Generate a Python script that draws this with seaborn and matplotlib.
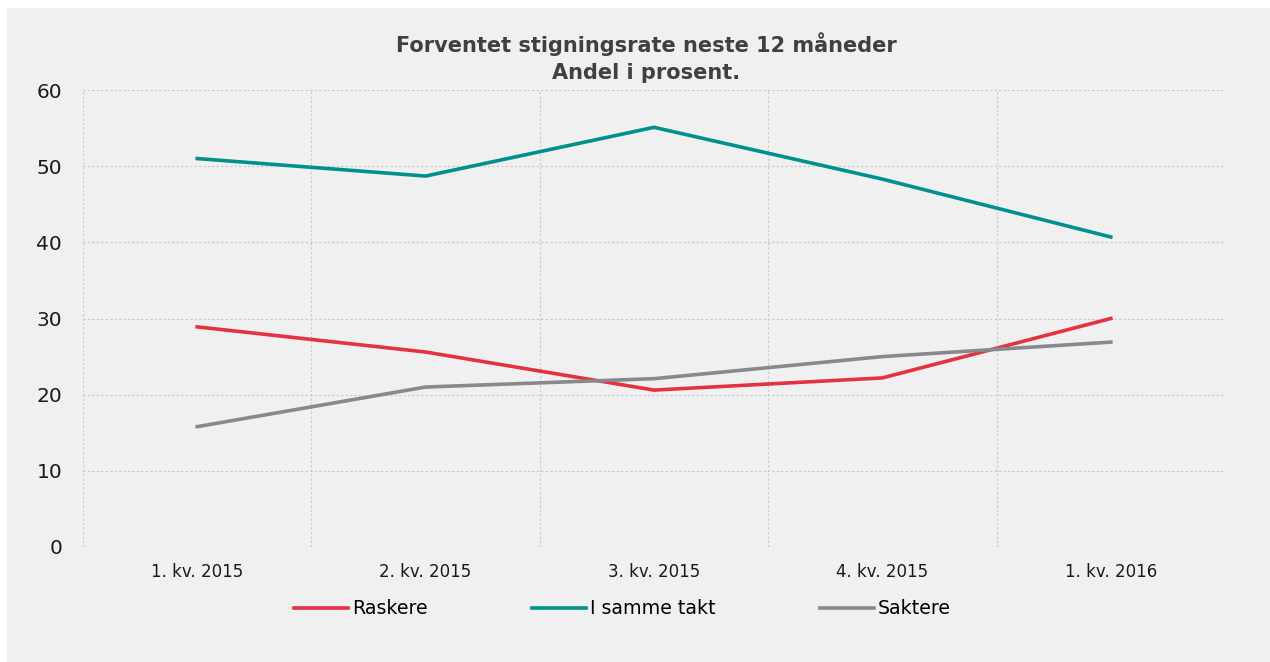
import matplotlib
matplotlib.use("Agg")
import matplotlib.pyplot as plt
import seaborn as sns
import pandas as pd
from matplotlib.patches import Rectangle
from matplotlib.ticker import FixedLocator

categories = ["1. kv. 2015", "2. kv. 2015", "3. kv. 2015", "4. kv. 2015", "1. kv. 2016"]
raskere = [28.9, 25.6, 20.6, 22.2, 30.0]
samme_takt = [51.0, 48.7, 55.1, 48.3, 40.7]
saktere = [15.8, 21.0, 22.1, 25.0, 26.9]
series_names = ["Raskere", "I samme takt", "Saktere"]
colors = ["#e5323f", "#00918f", "#88888d"]
y_ticks = [0, 10, 20, 30, 40, 50, 60]
title = "Forventet stigningsrate neste 12 måneder\nAndel i prosent."

rows = []
for name, vals in zip(series_names, [raskere, samme_takt, saktere]):
    for i, (c, v) in enumerate(zip(categories, vals)):
        rows.append({"pos": i, "kvartal": c, "verdi": v, "serie": name})
df = pd.DataFrame(rows)

plt.rcParams['font.family'] = ['DejaVu Sans']

W, H = 1270, 662
fig = plt.figure(figsize=(W / 100, H / 100), dpi=100, facecolor="white")
fig.patches.append(Rectangle((7 / W, 0), 1 - 7 / W, 1 - 8 / H, transform=fig.transFigure,
                             facecolor="#f0f0f0", edgecolor="none", zorder=-10))

ax = fig.add_axes([83 / W, (H - 547) / H, (1225 - 83) / W, (547 - 90) / H])
ax.set_facecolor("none")

sns.lineplot(data=df, x="pos", y="verdi", hue="serie", hue_order=series_names,
             palette=dict(zip(series_names, colors)), linewidth=2.6, ax=ax,
             legend=True, sort=False)

ax.set_xlim(-0.5, len(categories) - 0.5)
ax.set_ylim(0, 60)
ax.set_xticks(range(len(categories)))
ax.set_xticklabels(categories, fontsize=12, color="#1a1a1a")
ax.xaxis.set_minor_locator(FixedLocator([i - 0.5 for i in range(len(categories) + 1)]))
ax.set_yticks(y_ticks)
ax.set_yticklabels([str(t) for t in y_ticks], fontsize=14.5, color="#1a1a1a")
ax.tick_params(axis="both", which="both", length=0)
ax.tick_params(axis="x", pad=11.5)
ax.tick_params(axis="y", pad=15)
ax.grid(False)
ax.grid(True, axis="y", which="major", color="#c8c8c8", linestyle=(0, (2, 2)), linewidth=0.8)
ax.grid(True, axis="x", which="minor", color="#c8c8c8", linestyle=(0, (2, 2)), linewidth=0.8)
for s in ax.spines.values():
    s.set_visible(False)
ax.set_xlabel("")
ax.set_ylabel("")
ax.set_axisbelow(True)

fig.text(646 / W, 1 - 32 / H, title, ha="center", va="top",
         fontsize=15, fontweight="bold", color="#404040", linespacing=1.45)

handles, labels = ax.get_legend_handles_labels()
ax.legend(handles, labels, loc="center", bbox_to_anchor=(622.5 / W, 1 - 609 / H),
          bbox_transform=fig.transFigure, ncol=3, frameon=False, fontsize=13.7,
          handlelength=2.85, handletextpad=0.22, columnspacing=5.45)

fig.savefig("out.png", dpi=100, facecolor=fig.get_facecolor())
